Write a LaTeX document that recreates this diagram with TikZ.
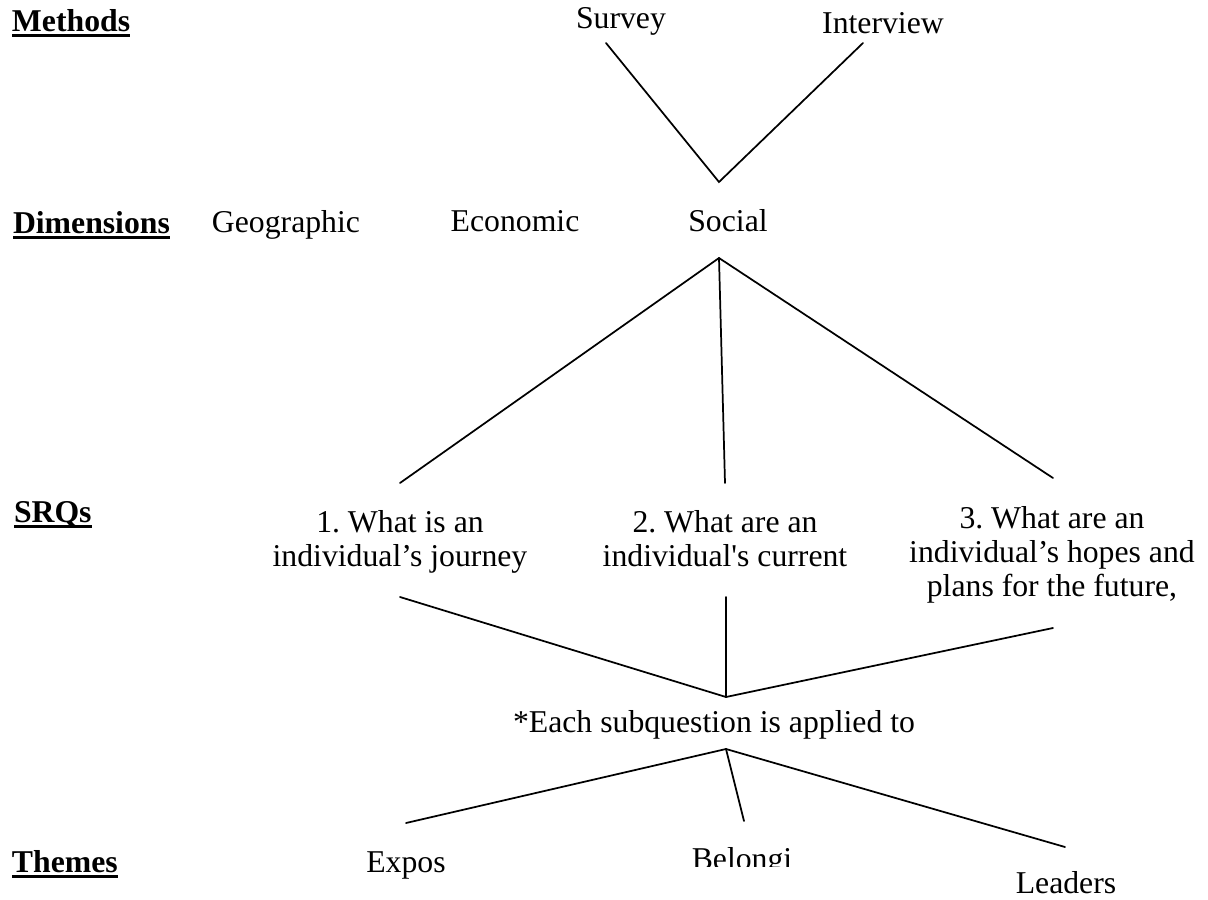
\documentclass[tikz,border=0pt]{standalone}
\usepackage{fontspec}
\setmainfont{Liberation Serif}
\frenchspacing
\begin{document}
\begin{tikzpicture}[x=0.75pt,y=-0.75pt,
  txt/.style={inner sep=0pt,outer sep=0pt,font=\fontsize{23.8}{25.5}\selectfont\frenchspacing},
  lbl/.style={txt,anchor=base},
  head/.style={txt,anchor=base west,font=\fontsize{23.8}{25.5}\selectfont\bfseries},
  srq/.style={txt,anchor=north,align=center},
  conn/.style={line width=1.3pt,line cap=round}]
\useasboundingbox (0,0) rectangle (1208,900);
\fill[white] (0,0) rectangle (1208,900);

% headings
\node[head] (methods) at (12,31) {Methods};
\node[head] (dims) at (13,233) {Dimensions};
\node[head] (srqs) at (14,522) {SRQs};
\node[head] (themes) at (12,872) {Themes};
\foreach \h/\t in {methods/2.6pt,dims/2.6pt,srqs/2.4pt,themes/2pt}
  \draw[line width=\t] ([yshift=-3.5pt]\h.base west) -- ([yshift=-3.5pt]\h.base east);

% methods
\node[lbl] (survey) at (621,28) {Survey};
\node[lbl] (interview) at (883,33) {Interview};
% dimensions
\node[lbl] (geo) at (286,232) {Geographic};
\node[lbl] (eco) at (515,231) {Economic};
\node[lbl] (social) at (728,231) {Social};
% SRQs
\node[srq] (q1) at (400,510) {1. What is an\\individual’s journey};
\node[srq] (q2) at (725,510) {2. What are an\\individual\textquotesingle s current};
\node[srq] (q3) at (1052,506) {3. What are an\\individual’s hopes and\\plans for the future,};
\node[lbl] (each) at (714,732) {*Each subquestion is applied to};
% themes
\node[lbl] (expos) at (406,872) {Expos};
\begin{scope}
\clip (600,0) rectangle (900,866);
\node[lbl] (belong) at (742,869) {Belongi};
\end{scope}
\node[lbl] (leaders) at (1066,893) {Leaders};

% connector points
\coordinate (sv) at (606,43);
\coordinate (iv) at (863,43);
\coordinate (mj) at (719,182);
\coordinate (sj) at (719,258);
\coordinate (q1t) at (400,483);
\coordinate (q2t) at (725,483);
\coordinate (q3t) at (1053,478);
\coordinate (q1b) at (400,597);
\coordinate (q2b) at (726,597);
\coordinate (q3b) at (1053,628);
\coordinate (ej) at (726,697);
\coordinate (ek) at (726,749);
\coordinate (exT) at (406,823);
\coordinate (beT) at (744,821);
\coordinate (leT) at (1065,847);

\draw[conn] (sv) -- (mj) -- (iv);
\draw[conn] (sj) -- (q1t);
\draw[conn] (sj) -- (q2t);
\draw[conn] (sj) -- (q3t);
\draw[conn] (q1b) -- (ej);
\draw[conn] (q2b) -- (ej);
\draw[conn] (q3b) -- (ej);
\draw[conn] (ek) -- (exT);
\draw[conn] (ek) -- (beT);
\draw[conn] (ek) -- (leT);
\end{tikzpicture}
\end{document}
